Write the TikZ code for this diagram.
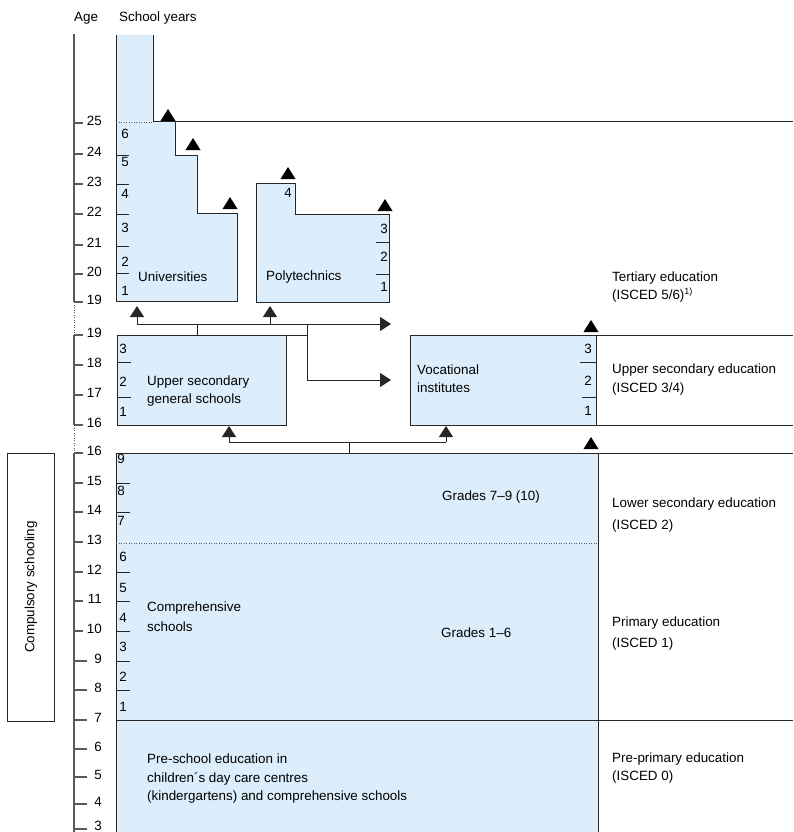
\documentclass[tikz,border=0pt]{standalone}
\usepackage{fontspec}
\setmainfont{Liberation Sans}
\usetikzlibrary{arrows.meta}
\definecolor{fillblue}{HTML}{DCEEFB}
\definecolor{linecol}{HTML}{262626}
\definecolor{axiscol}{HTML}{5A5A5A}
\newcommand\uptri[2]{\fill[black] (#1-7.5,#2) -- (#1+7.5,#2) -- (#1,#2-12) -- cycle;}
\begin{document}
\begin{tikzpicture}[x=1pt,y=-1pt,
  txt/.style={inner sep=0pt, anchor=base west, font=\fontsize{13.4}{18}\selectfont},
  num/.style={inner sep=0pt, anchor=center, font=\fontsize{13.4}{18}\selectfont},
  agelab/.style={inner sep=0pt, anchor=base east, font=\fontsize{13.4}{18}\selectfont},
  bline/.style={draw=linecol, line width=1pt},
  axis/.style={draw=axiscol, line width=1.2pt},
  dotline/.style={draw=axiscol, line width=0.8pt, dash pattern=on 1pt off 1.5pt},
  arr/.style={bline, -{Triangle[width=14pt,length=11pt]}},
]
\useasboundingbox (0,0) rectangle (793,832);

% ---------- fills ----------
\path[fill=fillblue] (116,35) -- (153,35) -- (153,122) -- (175,122) -- (175,155) -- (197,155) -- (197,213) -- (237,213) -- (237,301) -- (116,301) -- cycle;
\path[fill=fillblue] (256,183) -- (295,183) -- (295,214) -- (389,214) -- (389,302) -- (256,302) -- cycle;
\path[fill=fillblue] (117,335) rectangle (286,425);
\path[fill=fillblue] (410,335) rectangle (596,425);
\path[fill=fillblue] (116,453) rectangle (598,840);

% ---------- universities ----------
\draw[bline] (116,35) -- (116,301) -- (237,301) -- (237,213) -- (197,213) -- (197,155) -- (175,155) -- (175,122) -- (153,122) -- (153,35);
\draw[bline] (153,122) -- (793,122);
\draw[dotline] (116,122) -- (153,122);
\foreach \y in {155,184,214,246,273} \draw[bline] (116,\y) -- (129,\y);
\foreach \n/\y in {6/134,5/162,4/194,3/228,2/262,1/291} \node[num] (u\n) at (125,\y) {\n};
\node[txt] (univ) at (138,281) {Universities};
\uptri{168}{121}
\uptri{193}{150}
\uptri{230}{209}

% ---------- polytechnics ----------
\draw[bline] (256,183) -- (295,183) -- (295,214) -- (389,214) -- (389,302) -- (256,302) -- cycle;
\draw[bline] (376,242) -- (389,242);
\draw[bline] (376,274) -- (389,274);
\node[num] (p4) at (288,193) {4};
\foreach \n/\y in {3/229,2/257,1/287} \node[num] (p\n) at (384,\y) {\n};
\node[txt] (poly) at (266,280) {Polytechnics};
\uptri{288}{179}
\uptri{385}{211}

% ---------- upper secondary ----------
\draw[bline] (117,335) rectangle (286,425);
\draw[bline] (117,362) -- (131,362);
\draw[bline] (117,397) -- (131,397);
\foreach \n/\y in {3/349,2/382,1/412} \node[num] (g\n) at (123,\y) {\n};
\node[txt] (ugs1) at (147,385) {Upper secondary};
\node[txt] (ugs2) at (147,403) {general schools};

\draw[bline] (410,335) rectangle (596,425);
\draw[bline] (580,362) -- (596,362);
\draw[bline] (582,397) -- (596,397);
\foreach \n/\y in {3/349,2/381,1/411} \node[num] (v\n) at (588,\y) {\n};
\node[txt] (voc1) at (417,374) {Vocational};
\node[txt] (voc2) at (417,392) {institutes};
\draw[bline] (596,335) -- (793,335);
\draw[bline] (596,425) -- (793,425);
\uptri{591}{332}

% connectors upper
\coordinate (s1) at (197,335);
\coordinate (j1) at (197,324);
\coordinate (h1) at (137,324);
\coordinate (h2) at (270,324);
\coordinate (h3) at (307,324);
\coordinate (t1) at (137,306);
\coordinate (t2) at (270,306);
\coordinate (e1) at (391,324);
\coordinate (e2) at (391,380);
\draw[bline] (s1) -- (j1);
\draw[arr] (h1) -- (e1);
\draw[arr] (h1) -- (t1);
\draw[arr] (h2) -- (t2);
\draw[arr] (h3) |- (e2);
\draw[bline] (286,335) -- (307,335);

% ---------- compulsory ----------
\draw[bline] (116,840) -- (116,453) -- (598,453) -- (598,840);
\draw[bline] (598,453) -- (793,453);
\draw[bline] (116,720) -- (793,720);
\draw[dotline] (116,543) -- (598,543);
\foreach \y in {483,512,572,601,631,661,690} \draw[bline] (116,\y) -- (130,\y);
\foreach \n/\x/\y in {9/121/459,8/121/491,7/121/521,6/123/557,5/123/588,4/123/618,3/123/647,2/123/677,1/123/707}
  \node[num] (c\n) at (\x,\y) {\n};
\node[txt] (g79) at (442,500) {Grades 7–9 (10)};
\node[txt] (g16) at (441,637) {Grades 1–6};
\node[txt] (comp1) at (147,611) {Comprehensive};
\node[txt] (comp2) at (147,631) {schools};
\node[txt] (pre1) at (147,763) {Pre-school education in};
\node[txt] (pre2) at (147,782) {children´s day care centres};
\node[txt] (pre3) at (147,800) {(kindergartens) and comprehensive schools};
\uptri{591}{449}

% connectors lower
\coordinate (s2) at (349,453);
\coordinate (j2) at (349,442);
\coordinate (k1) at (229,442);
\coordinate (k2) at (446,442);
\coordinate (k1t) at (229,426);
\coordinate (k2t) at (446,426);
\draw[bline] (s2) -- (j2);
\draw[bline] (k1) -- (k2);
\draw[arr] (k1) -- (k1t);
\draw[arr] (k2) -- (k2t);

% ---------- compulsory schooling box ----------
\draw[bline] (7,453) rectangle (54,721);
\node[inner sep=0pt, rotate=90, font=\fontsize{13.4}{18}\selectfont] (cs) at (31,587) {Compulsory schooling};

% ---------- age axis ----------
\node[txt] (age) at (74,22) {Age};
\node[txt] (sy) at (119,22) {School years};
\draw[axis] (74,34) -- (74,302);
\draw[dotline] (74,302) -- (74,335);
\draw[axis] (74,335) -- (74,425);
\draw[dotline] (74,425) -- (74,453);
\draw[axis] (74,453) -- (74,832);
\foreach \a/\y in {25/123,24/154,23/184,22/214,21/245,20/274,19/302,19/335,18/365,17/395,16/425,16/453,15/483,14/512,13/542,12/572,11/601,10/631}{
  \draw[axis] (74,\y) -- (83,\y);
  \node[agelab] at (102,\y+2) {\a};
}
\foreach \a/\y in {9/661,8/690,7/720,6/749,5/777,4/804}{
  \draw[axis] (74,\y) -- (87,\y);
  \node[agelab] at (102,\y+2) {\a};
}
\draw[axis] (74,829) -- (87,829);
\node[agelab] (a3) at (102,830.5) {3};

% ---------- right labels ----------
\node[txt] (ter1) at (612,281) {Tertiary education};
\node[txt] (ter2) at (612,299) {(ISCED 5/6)\raisebox{5pt}{\fontsize{9}{9}\selectfont 1)}};
\node[txt] (use1) at (612,373) {Upper secondary education};
\node[txt] (use2) at (612,392) {(ISCED 3/4)};
\node[txt] (lse1) at (612,507) {Lower secondary education};
\node[txt] (lse2) at (612,529) {(ISCED 2)};
\node[txt] (pe1) at (612,626) {Primary education};
\node[txt] (pe2) at (612,647) {(ISCED 1)};
\node[txt] (ppe1) at (612,762) {Pre-primary education};
\node[txt] (ppe2) at (612,780) {(ISCED 0)};
\end{tikzpicture}
\end{document}
